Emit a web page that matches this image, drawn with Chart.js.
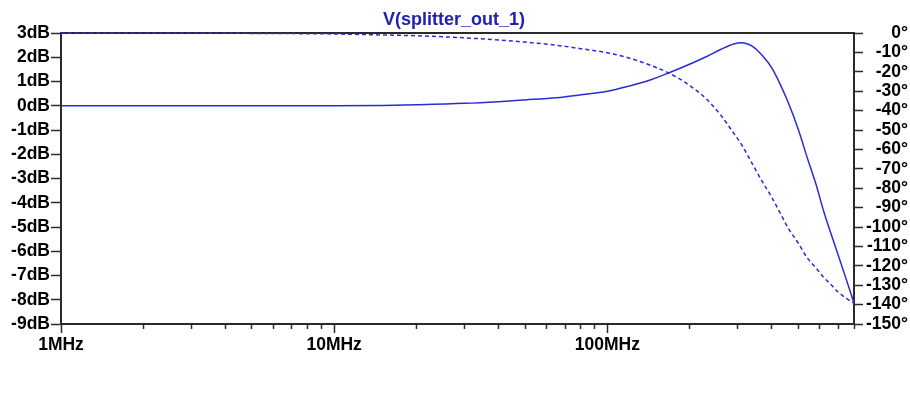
<!DOCTYPE html>
<html>
<head>
<meta charset="utf-8">
<title>V(splitter_out_1)</title>
<script src="https://cdn.jsdelivr.net/npm/chart.js@4"></script>
<style>
  html, body { margin: 0; padding: 0; background: #fff; }
</style>
</head>
<body>
<canvas id="chart-bode" width="910" height="411"></canvas>
<script>
// AC sweep of the splitter output, 1MHz .. 800MHz
const freqMHz = [1, 2, 3, 5, 7, 10, 15, 20, 30, 40, 50, 65, 80, 100, 120, 140, 170, 200, 230, 260,
  290, 310, 340, 370, 400, 430, 460, 500, 540, 580, 620, 660, 700, 750, 800];
const gainDb = [0, 0, 0, 0, 0, 0, 0.01, 0.04, 0.1, 0.17, 0.24, 0.33, 0.45, 0.6, 0.81, 1.02, 1.38, 1.71, 2.02, 2.32,
  2.55, 2.6, 2.45, 2.06, 1.56, 0.87, 0.12, -0.97, -2.16, -3.22, -4.36, -5.3, -6.15, -7.17, -8.14];
const phaseDeg = [0, 0, 0, -0.2, -0.3, -0.5, -1.0, -1.4, -2.5, -3.6, -4.7, -6.3, -8.1, -10.2, -12.9, -16, -21, -27, -33.9, -42.3,
  -51.6, -57.5, -67.6, -76.8, -84.7, -93, -100.7, -108.3, -116, -121, -126, -129.8, -133.5, -136.8, -139.3];

// axis labels
const decadeValues = [1, 10, 100];
const decadeLabels = ['1MHz', '10MHz', '100MHz'];
const fMin = 1, fMax = 800;
const dbMin = -9, dbMax = 3;
const degMin = -150, degMax = 0;

const blue = '#2b2bd6';
const axisColor = '#2a2a2a';
const font = { family: '"Liberation Sans", Arial, sans-serif', size: 17.5, weight: 'bold' };

// draws the top edge of the plot box under the traces
const topEdge = {
  id: 'topEdge',
  beforeDatasetsDraw(chart) {
    const { ctx, chartArea } = chart;
    ctx.save();
    ctx.strokeStyle = axisColor;
    ctx.lineWidth = 2;
    ctx.beginPath();
    ctx.moveTo(chartArea.left, chartArea.top);
    ctx.lineTo(chartArea.right, chartArea.top);
    ctx.stroke();
    ctx.restore();
  }
};

const bode = document.getElementById('chart-bode');

new Chart(bode, {
  type: 'line',
  data: {
    labels: freqMHz,
    datasets: [
      {
        label: 'gain',
        data: freqMHz.map((f, i) => ({ x: f, y: gainDb[i] })),
        yAxisID: 'db',
        borderColor: blue,
        borderWidth: 1.5,
        pointRadius: 0,
        cubicInterpolationMode: 'monotone',
      },
      {
        label: 'phase',
        data: freqMHz.map((f, i) => ({ x: f, y: phaseDeg[i] })),
        yAxisID: 'deg',
        borderColor: blue,
        borderWidth: 1.5,
        borderDash: [4, 3],
        pointRadius: 0,
        cubicInterpolationMode: 'monotone',
        clip: 4,
      },
    ],
  },
  options: {
    responsive: false,
    animation: false,
    layout: { padding: { left: 0, right: 2, top: 0, bottom: 0 } },
    plugins: {
      legend: { display: false },
      tooltip: { enabled: false },
      title: {
        display: true,
        text: 'V(splitter_out_1)',
        color: '#2020b4',
        font: { family: font.family, size: 18, weight: 'bold' },
        padding: { top: 9.5, bottom: 1.9 },
      },
    },
    scales: {
      x: {
        type: 'logarithmic',
        min: fMin,
        max: fMax,
        afterFit(scale) { scale.height = 87; },
        afterBuildTicks(scale) {
          const ticks = [];
          decadeValues.forEach(d => {
            for (let k = 1; k <= 9; k++) {
              if (k * d <= fMax) ticks.push({ value: k * d });
            }
          });
          scale.ticks = ticks;
        },
        border: { color: axisColor, width: 2 },
        grid: {
          drawOnChartArea: false,
          tickLength: 9,
          tickColor: axisColor,
          tickWidth: 1.5,
          tickBorderDash: ctx => decadeValues.includes(ctx.tick.value) ? [] : [4, 10],
        },
        ticks: {
          autoSkip: false,
          maxRotation: 0,
          padding: 2,
          color: '#000',
          font: font,
          callback: value => {
            const i = decadeValues.indexOf(value);
            return i >= 0 ? decadeLabels[i] : '';
          },
        },
      },
      db: {
        position: 'left',
        min: dbMin,
        max: dbMax,
        afterFit(scale) { scale.width = 61; },
        border: { color: axisColor, width: 2 },
        grid: { drawOnChartArea: false, tickLength: 10, tickColor: axisColor, tickWidth: 1.5 },
        ticks: {
          stepSize: 1,
          autoSkip: false,
          padding: 1,
          color: '#000',
          font: font,
          callback: v => v + 'dB',
        },
      },
      deg: {
        position: 'right',
        min: degMin,
        max: degMax,
        afterFit(scale) { scale.width = 54; },
        border: { color: axisColor, width: 2 },
        grid: { drawOnChartArea: false, tickLength: 9, tickColor: axisColor, tickWidth: 1.5 },
        ticks: {
          stepSize: 10,
          autoSkip: false,
          padding: 0,
          crossAlign: 'far',
          color: '#000',
          font: font,
          callback: v => v + '°',
        },
      },
    },
  },
  plugins: [topEdge],
});
</script>
</body>
</html>
